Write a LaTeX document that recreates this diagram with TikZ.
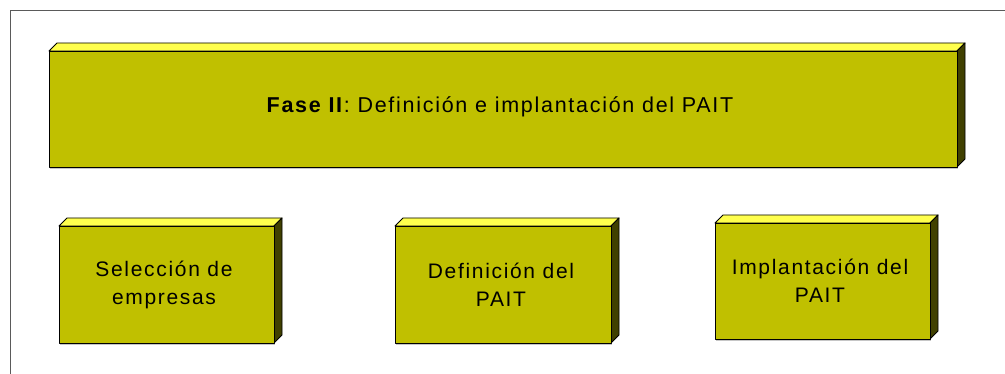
\documentclass[tikz,border=0pt]{standalone}
\usepackage{fontspec}
\setmainfont{Liberation Sans}[LetterSpace=8]
\definecolor{frontc}{RGB}{192,192,0}
\definecolor{topc}{RGB}{255,255,77}
\definecolor{sidec}{RGB}{64,64,0}
\definecolor{framec}{RGB}{90,90,90}
\begin{document}
\begin{tikzpicture}[x=1pt,y=-1pt,
  face/.style={draw=black,line width=0.9pt,line join=round},
  lbl/.style={font=\fontsize{21}{27.5}\selectfont,align=center,text=black,inner sep=0pt}]
\useasboundingbox (0,0) rectangle (1005,374);
\fill[white] (0,0) rectangle (1005,374);
% frame
\draw[framec,line width=1pt] (10,374) -- (10,11) -- (1005,11);
\tikzset{pics/cuboid/.style args={#1/#2/#3/#4}{code={
  \def\xa{#1}\def\ya{#2}\def\xb{#3}\def\yb{#4}
  \draw[gray!45,line width=1pt] (\xa+1,\yb+1.5) -- (\xb+1,\yb+1.5);
  \filldraw[face,fill=topc] (\xa,\ya) -- (\xa+8,\ya-8) -- (\xb+8,\ya-8) -- (\xb,\ya) -- cycle;
  \filldraw[face,fill=sidec] (\xb,\ya) -- (\xb+8,\ya-8) -- (\xb+8,\yb-8) -- (\xb,\yb) -- cycle;
  \filldraw[face,fill=frontc] (\xa,\ya) rectangle (\xb,\yb);
}}}
\pic {cuboid={49/51/957/167}};
\pic {cuboid={59/226/274/343}};
\pic {cuboid={395/226/611/343}};
\pic {cuboid={715/223/930/339}};
\node[lbl,font=\fontsize{21.5}{27.5}\selectfont] (fase) at (500,107) {\textbf{Fase II}: Definición e implantación del PAIT};
\node[lbl] (sel) at (164,285) {Selección de\\empresas};
\node[lbl] (def) at (501,285) {Definición del\\PAIT};
\node[lbl] (imp) at (820,281) {Implantación del\\PAIT};
\end{tikzpicture}
\end{document}
